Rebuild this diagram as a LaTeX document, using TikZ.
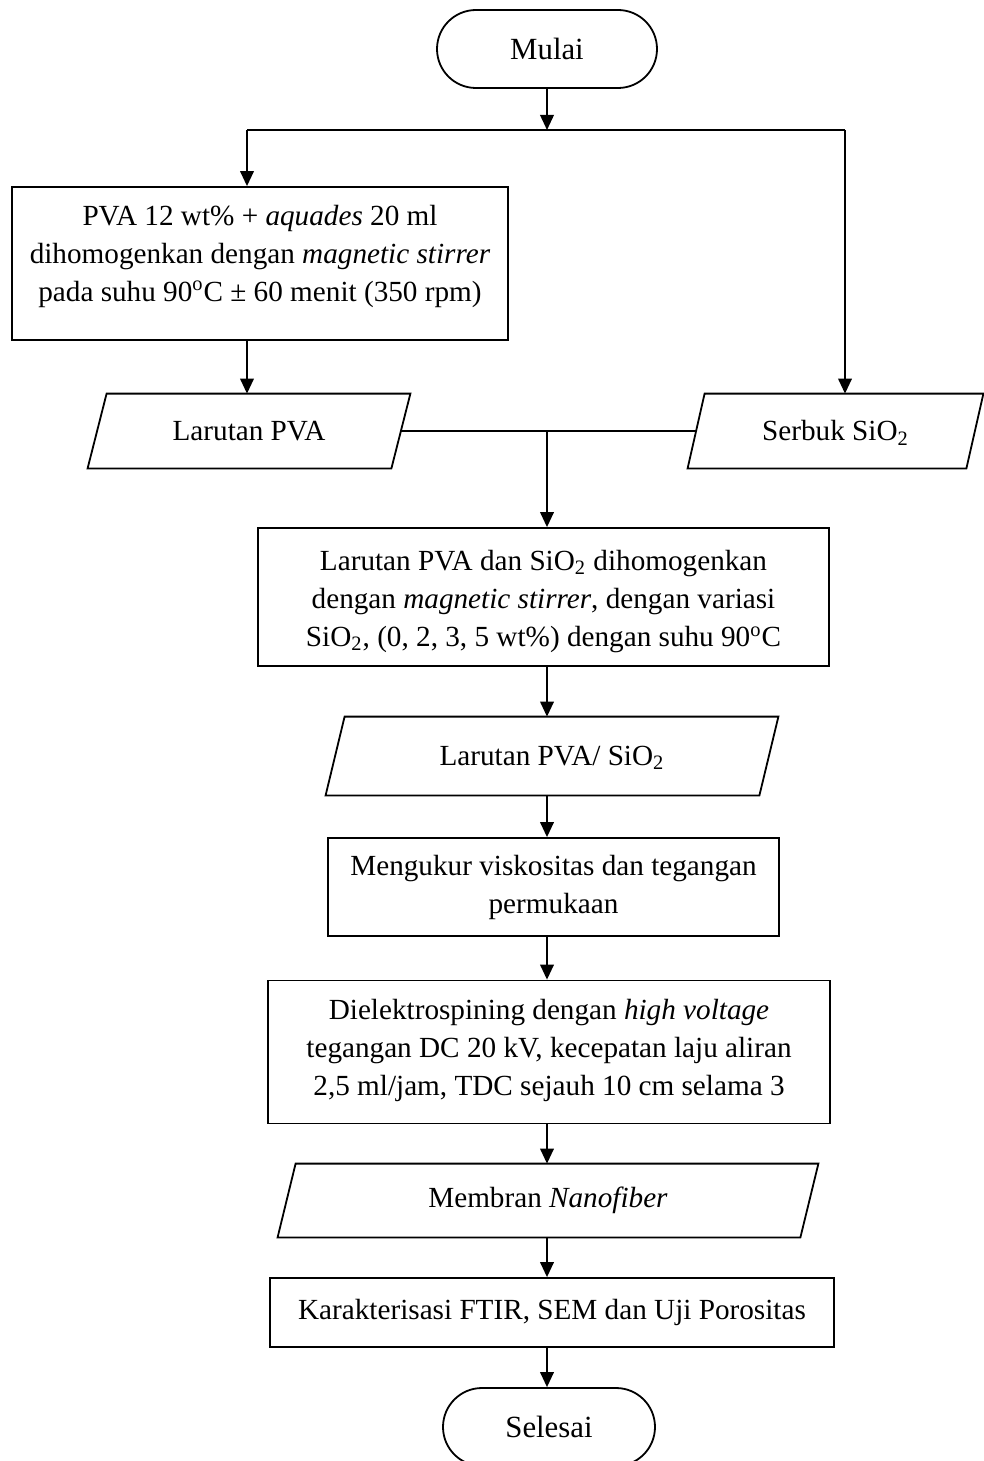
\documentclass[tikz,border=0pt]{standalone}
\usepackage{fontspec}
\setmainfont{Liberation Serif}
\usetikzlibrary{arrows.meta,shapes.misc}
\newcommand\upbox[2]{\raisebox{#1}[\height][\depth]{\begin{tabular}{@{}c@{}}#2\end{tabular}}}
\newcommand\sub[1]{\smash{\textsubscript{#1}}}
\begin{document}
\begin{tikzpicture}[x=0.5pt,y=-0.5pt,
  every node/.style={font=\fontsize{14.6}{19}\selectfont, align=center, inner sep=0pt},
  box/.style={draw, line width=0.9pt, rectangle},
  term/.style={draw, line width=0.9pt, rounded rectangle, minimum width=110pt, minimum height=39pt, font=\fontsize{15.4}{19}\selectfont},
  io/.style={rectangle, minimum height=37pt},
  line/.style={line width=0.9pt},
  arr/.style={line width=0.9pt, -{Triangle[length=7.5pt,width=6.8pt]}},
]
\useasboundingbox (0,0) rectangle (984,1461);
\fill[white] (0,0) rectangle (984,1461);

% nodes
\node[term] (mulai) at (547,49) {Mulai};
\node[box, minimum width=248pt, minimum height=76.5pt] (b1) at (260,263.5)
  {\upbox{4pt}{PVA 12 wt\% + \textit{aquades} 20 ml\\ dihomogenkan dengan \textit{magnetic stirrer}\\ pada suhu 90\textsuperscript{o}C ± 60 menit (350 rpm)}};
\node[io, minimum width=161pt] (pva) at (249,431) {Larutan PVA};
\node[io, minimum width=147.5pt] (serbuk) at (835.5,431) {\raisebox{-1.5pt}{Serbuk SiO\sub{2}}};
\node[box, minimum width=285.5pt, minimum height=69pt] (b2) at (543.5,597)
  {\upbox{-2pt}{Larutan PVA dan SiO\textsubscript{2} dihomogenkan\\ dengan \textit{magnetic stirrer}, dengan variasi\\ SiO\textsubscript{2}, (0, 2, 3, 5 wt\%) dengan suhu 90\textsuperscript{o}C}};
\node[io, minimum width=226pt, minimum height=39pt] (ps) at (552,756) {Larutan PVA/ SiO\sub{2}};
\node[box, minimum width=225.5pt, minimum height=49pt] (b3) at (553.5,887)
  {Mengukur viskositas dan tegangan\\ permukaan};
\node[box, minimum width=281pt, minimum height=71.5pt] (b4) at (549,1052)
  {\upbox{1pt}{Dielektrospining dengan \textit{high voltage}\\ tegangan DC 20 kV, kecepatan laju aliran\\ 2,5 ml/jam, TDC sejauh 10 cm selama 3}};
\node[io, minimum width=270pt, minimum height=36.5pt] (mem) at (548,1200.5) {Membran \textit{Nanofiber}};
\node[box, minimum width=282pt, minimum height=34.5pt] (b5) at (552,1312.5) {Karakterisasi FTIR, SEM dan Uji Porositas};
\node[term, minimum width=106pt] (selesai) at (549,1427) {Selesai};

% parallelogram outlines
\foreach \n/\s in {pva/9.5pt, serbuk/8.5pt, ps/9.5pt, mem/9pt}
  \draw[line] ([xshift=\s]\n.north west) -- (\n.north east) -- ([xshift=-\s]\n.south east) -- (\n.south west) -- cycle;

% coordinates
\coordinate (split) at (547,130);
\coordinate (sl) at (247,130);
\coordinate (sr) at (845,130);
\coordinate (join) at (547,431);
\coordinate (col) at (547,0);

% connectors
\draw[arr] (mulai.south) -- (split);
\draw[line] (sl) -- (sr);
\draw[arr] (sl) -- (sl |- b1.north);
\draw[arr] (sr) -- (sr |- serbuk.north);
\draw[arr] (sl |- b1.south) -- (sl |- pva.north);
\draw[line] ([xshift=-4.75pt]pva.east) -- ([xshift=4.25pt]serbuk.west);
\draw[arr] (join) -- (join |- b2.north);
\draw[arr] (col |- b2.south) -- (col |- ps.north);
\draw[arr] (col |- ps.south) -- (col |- b3.north);
\draw[arr] (col |- b3.south) -- (col |- b4.north);
\draw[arr] (col |- b4.south) -- (col |- mem.north);
\draw[arr] (col |- mem.south) -- (col |- b5.north);
\draw[arr] (col |- b5.south) -- (col |- selesai.north);
\end{tikzpicture}
\end{document}
